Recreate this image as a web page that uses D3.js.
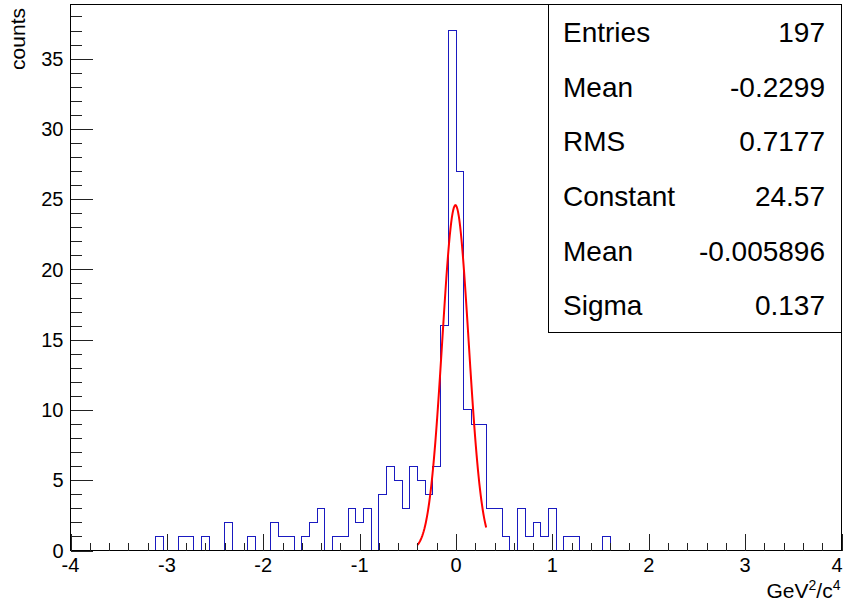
<!DOCTYPE html>
<html>
<head>
<meta charset="utf-8">
<script src="https://cdn.jsdelivr.net/npm/d3@7"></script>
<style>
  body { margin: 0; background: #fff; }
  svg { display: block; font-family: 'Liberation Sans', Arial, Helvetica, sans-serif; }
</style>
</head>
<body>
<div id="chart"></div>
<script>
// histogram: 100 bins from -4 to 4
const xRange = [-4, 4];
const binCounts = [
  0, 0, 0, 0, 0, 0, 0, 0, 0, 0,
  0, 1, 0, 0, 1, 1, 0, 1, 0, 0,
  2, 0, 0, 1, 0, 0, 2, 1, 1, 0,
  1, 2, 3, 0, 1, 1, 3, 2, 3, 0,
  4, 6, 5, 3, 6, 5, 4, 6, 16, 37,
  27, 10, 9, 9, 3, 3, 1, 0, 3, 1,
  2, 1, 3, 0, 1, 1, 0, 0, 0, 1,
  0, 0, 0, 0, 0, 0, 0, 0, 0, 0,
  0, 0, 0, 0, 0, 0, 0, 0, 0, 0,
  0, 0, 0, 0, 0, 0, 0, 0, 0, 0,
];

// gaussian fit shown in red
const fitConstant = 24.57;
const fitMean = -0.005896;
const fitSigma = 0.137;
const fitRange = [-0.4, 0.313];

const statLabels = ['Entries', 'Mean', 'RMS', 'Constant', 'Mean', 'Sigma'];
const statValues = ['197', '-0.2299', '0.7177', '24.57', '-0.005896', '0.137'];

const xTitle = 'GeV';
const yTitle = 'counts';

const size = { width: 844, height: 603 };
const frame = { left: 70.5, right: 841.5, top: 4.5, bottom: 550.5 };

const svg = d3
  .select('#chart')
  .append('svg')
  .attr('width', size.width)
  .attr('height', size.height);

const nBins = binCounts.length;
const binWidth = (xRange[1] - xRange[0]) / nBins;
const yMax = d3.max(binCounts) * 1.05;

const x = d3.scaleLinear().domain(xRange).range([frame.left, frame.right]);
const y = d3.scaleLinear().domain([0, yMax]).range([frame.bottom, frame.top]);

// histogram outline
const steps = binCounts.map((c, i) => [xRange[0] + i * binWidth, c]);
steps.unshift([xRange[0], 0]);
steps.push([xRange[1], binCounts[nBins - 1]]);
steps.push([xRange[1], 0]);

svg
  .append('path')
  .datum(steps)
  .attr('fill', 'none')
  .attr('stroke', '#1a1ac0')
  .attr('stroke-width', 1)
  .attr('shape-rendering', 'crispEdges')
  .attr('d', d3.line().x((d) => x(d[0])).y((d) => y(d[1])).curve(d3.curveStepAfter));

// fit curve
const gaus = (v) => fitConstant * Math.exp(-0.5 * ((v - fitMean) / fitSigma) ** 2);
const fitX = d3.range(0, 101).map((i) => fitRange[0] + (i / 100) * (fitRange[1] - fitRange[0]));

svg
  .append('path')
  .datum(fitX)
  .attr('fill', 'none')
  .attr('stroke', '#ff0000')
  .attr('stroke-width', 2)
  .attr('d', d3.line().x((d) => x(d)).y((d) => y(gaus(d))));

// frame
svg
  .append('rect')
  .attr('x', frame.left)
  .attr('y', frame.top)
  .attr('width', frame.right - frame.left)
  .attr('height', frame.bottom - frame.top)
  .attr('fill', 'none')
  .attr('stroke', '#000')
  .attr('shape-rendering', 'crispEdges');

// x axis, ticks inside
const xMinor = d3.range(0, 41).map((i) => xRange[0] + i * 0.2);
const xAxis = svg
  .append('g')
  .attr('transform', `translate(0, ${frame.bottom})`);

xAxis
  .append('g')
  .call(d3.axisTop(x).tickValues(xMinor).tickSize(8).tickFormat(''))
  .call((g) => g.select('.domain').remove());

xAxis
  .append('g')
  .call(d3.axisTop(x).ticks(8).tickSize(17).tickFormat(''))
  .call((g) => g.select('.domain').remove());

// last label kept inside the canvas
xAxis
  .selectAll('.xlab')
  .data(x.ticks(8))
  .enter()
  .append('text')
  .attr('x', (d) => Math.min(x(d), size.width - 7))
  .attr('y', 21)
  .attr('text-anchor', 'middle')
  .style('font-size', '20px')
  .text((d) => d);

// y axis, ticks inside
const yMinor = d3.range(0, Math.floor(yMax) + 1);
const yAxis = svg.append('g').attr('transform', `translate(${frame.left}, 0)`);

yAxis
  .append('g')
  .call(d3.axisRight(y).tickValues(yMinor).tickSize(11).tickFormat(''))
  .call((g) => g.select('.domain').remove());

yAxis
  .append('g')
  .call(d3.axisRight(y).tickValues(d3.range(0, yMax, 5)).tickSize(22).tickFormat(''))
  .call((g) => g.select('.domain').remove());

yAxis
  .selectAll('.ylab')
  .data(d3.range(0, yMax, 5))
  .enter()
  .append('text')
  .attr('x', -7)
  .attr('y', (d) => y(d))
  .attr('dy', '0.36em')
  .attr('text-anchor', 'end')
  .style('font-size', '20px')
  .text((d) => d);

svg.selectAll('.tick line').attr('stroke', '#222').attr('shape-rendering', 'crispEdges');

// axis titles
const xt = svg
  .append('text')
  .attr('x', frame.right - 1)
  .attr('y', 598)
  .attr('text-anchor', 'end')
  .style('font-size', '21px');
xt.append('tspan').text(xTitle);
xt.append('tspan').attr('dy', -8).style('font-size', '14px').text('2');
xt.append('tspan').attr('dy', 8).text('/c');
xt.append('tspan').attr('dy', -8).style('font-size', '14px').text('4');

svg
  .append('text')
  .attr('transform', 'translate(25, 8) rotate(-90)')
  .attr('text-anchor', 'end')
  .style('font-size', '21px')
  .text(yTitle);

// stats box
const box = { left: 548, right: frame.right, top: frame.top, bottom: 332.5 };
svg
  .append('rect')
  .attr('x', box.left + 0.5)
  .attr('y', box.top)
  .attr('width', box.right - box.left - 0.5)
  .attr('height', box.bottom - box.top)
  .attr('fill', '#fff')
  .attr('stroke', '#000')
  .attr('shape-rendering', 'crispEdges');

const rowH = (box.bottom - box.top) / statLabels.length;
const rows = svg
  .selectAll('.stat')
  .data(statLabels)
  .enter()
  .append('g')
  .attr('transform', (d, i) => `translate(0, ${box.top + rowH * (i + 0.5)})`);

rows
  .append('text')
  .attr('x', 563)
  .attr('dy', '0.36em')
  .style('font-size', '28px')
  .text((d) => d);

rows
  .append('text')
  .attr('x', 825)
  .attr('dy', '0.36em')
  .attr('text-anchor', 'end')
  .style('font-size', '28px')
  .text((d, i) => statValues[i]);
</script>
</body>
</html>
